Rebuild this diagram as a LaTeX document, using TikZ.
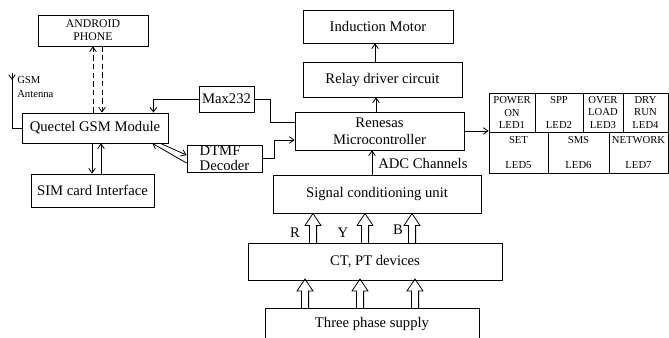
\documentclass[tikz,border=0pt]{standalone}
\usepackage{fontspec}
\setmainfont{Liberation Serif}
\usetikzlibrary{positioning,arrows.meta}

\begin{document}
\begin{tikzpicture}[
    x=0.75pt, y=-0.75pt,
    every node/.style={font=\fontsize{11}{12.5}\selectfont},
    block/.style={draw, line width=0.6pt, inner sep=0pt, align=center},
    smallblock/.style={block, font=\fontsize{8.8}{9.8}\selectfont},
    ledcell/.style={draw, line width=0.6pt, inner sep=0pt, align=center,
                    font=\fontsize{8}{9.3}\selectfont},
    arrow/.style={->, line width=0.6pt, >={Straight Barb[length=3.5pt,width=5pt]}},
    link/.style={line width=0.6pt},
    wireless/.style={arrow, dash pattern=on 4pt off 2.5pt},
    hollowup/.pic={\draw[line width=0.6pt] (-3.6,0) -- (-3.6,-17.5) -- (-8,-17.5)
                   -- (0,-29.5) -- (8,-17.5) -- (3.6,-17.5) -- (3.6,0);},
]
\useasboundingbox (0,0) rectangle (669,338);

% --- GSM side: phone, module, SIM, interface chips ---
\node[smallblock, minimum width=82.5pt, minimum height=23.25pt] (phone) at (93,30.5) {ANDROID\\PHONE};
\node[block, minimum width=109.5pt, minimum height=22.5pt] (gsm) at (95,128) {Quectel GSM Module};
\node[block, minimum width=92.25pt, minimum height=24.75pt] (sim) at (92.5,190.5) {SIM card Interface};
\node[block, minimum width=41.25pt, minimum height=19.5pt] (max) at (226.5,99) {Max232};
\node[block, minimum width=56.25pt, minimum height=20.25pt, align=left,
      font=\fontsize{11}{11.5}\selectfont] (dtmf) at (224.5,158.5) {DTMF\\Decoder};

% --- Controller chain ---
\node[block, minimum width=112.5pt, minimum height=24.75pt] (motor) at (378,26.5) {Induction Motor};
\node[block, minimum width=119.25pt, minimum height=26.25pt] (relay) at (382.5,79.5) {Relay driver circuit};
\node[block, minimum width=126.75pt, minimum height=28.5pt,
      font=\fontsize{11}{12.75}\selectfont] (mcu) at (379.5,131) {Renesas\\Microcontroller};
\node[block, minimum width=156pt, minimum height=28.5pt] (signal) at (377,194) {Signal conditioning unit};
\node[block, minimum width=190.5pt, minimum height=27.75pt] (ctpt) at (375,261.5) {CT, PT devices};
\node[block, minimum width=160.5pt, minimum height=24pt] (supply) at (372,324) {Three phase supply};

% --- LED panel ---
\node[ledcell, minimum width=34.5pt, minimum height=29.25pt] (led1) at (512,112.5) {POWER\\ON\\LED1};
\node[ledcell, minimum width=36pt, minimum height=29.25pt] (led2) at (559,112.5) {SPP\\\strut\\LED2};
\node[ledcell, minimum width=30pt, minimum height=29.25pt] (led3) at (603,112.5) {OVER\\LOAD\\LED3};
\node[ledcell, minimum width=33.75pt, minimum height=29.25pt] (led4) at (645.5,112.5) {DRY\\RUN\\LED4};
\node[ledcell, minimum width=44.25pt, minimum height=30.75pt] (led5) at (518.5,152.5) {SET\\\strut\\LED5};
\node[ledcell, minimum width=45.75pt, minimum height=30.75pt] (led6) at (578.5,152.5) {SMS\\\strut\\LED6};
\node[ledcell, minimum width=44.25pt, minimum height=30.75pt] (led7) at (638.5,152.5) {NETWORK\\\strut\\LED7};

% --- Antenna feed ---
\coordinate (ant) at (12,73);
\draw[arrow] (ant) -- ++(0,7);
\draw[link] (ant) |- (gsm.west);
\node[font=\fontsize{8}{11}\selectfont, align=left, anchor=north west, inner sep=0pt]
     (antlabel) at (17,76) {GSM\\Antenna};

% --- Phone <-> GSM (wireless) ---
\coordinate (gsmup) at ([xshift=-1.5pt]gsm.north);
\coordinate (gsmdn) at ([xshift=5.25pt]gsm.north);
\draw[wireless] (gsmup) -- (gsmup |- phone.south);
\draw[wireless] (gsmdn |- phone.south) -- (gsmdn);

% --- GSM <-> SIM ---
\coordinate (simdn) at ([xshift=-2.25pt]gsm.south);
\coordinate (simup) at ([xshift=4.5pt]gsm.south);
\draw[arrow] (simdn) -- (simdn |- sim.north);
\draw[arrow] (simup |- sim.north) -- (simup);

% --- GSM <-> DTMF, Max232 ---
\draw[arrow] ([yshift=-3.4pt]dtmf.west) -- ([xshift=-12pt]gsm.south east);
\draw[arrow] ([xshift=-6pt]gsm.south east) -- ([yshift=2.6pt]dtmf.west);
\draw[arrow] (max.west) -| ([xshift=-11.25pt]gsm.north east);
\draw[link] (max.east) -- ++(16,0) |- ([yshift=6.75pt]mcu.west);
\draw[arrow] (dtmf.east) -- ++(12,0) |- ([yshift=-6.75pt]mcu.west);

% --- MCU outputs ---
\coordinate (mcuout) at ([xshift=-2.6pt]mcu.north);
\draw[arrow] (mcuout) -- (mcuout |- relay.south);
\coordinate (relayout) at ([xshift=-5.6pt]relay.north);
\draw[arrow] (relayout) -- (relayout |- motor.south);
\draw[arrow] (mcu.east) -- (mcu.east -| led1.west);

% --- Measurement path ---
\coordinate (adc) at ([xshift=-3.75pt]signal.north);
\draw[arrow] (adc) -- (adc |- mcu.south);
\node[anchor=west, inner sep=0pt] (adclabel) at (378,163) {ADC Channels};

\pic at (313,243) {hollowup};
\pic at (365,243) {hollowup};
\pic at (412,243) {hollowup};
\node (rlabel) at (295,233) {R};
\node (ylabel) at (343,233) {Y};
\node (blabel) at (398,230) {B};

\pic at (305,308.5) {hollowup};
\pic at (360,308.5) {hollowup};
\pic at (415,308.5) {hollowup};

\end{tikzpicture}
\end{document}
